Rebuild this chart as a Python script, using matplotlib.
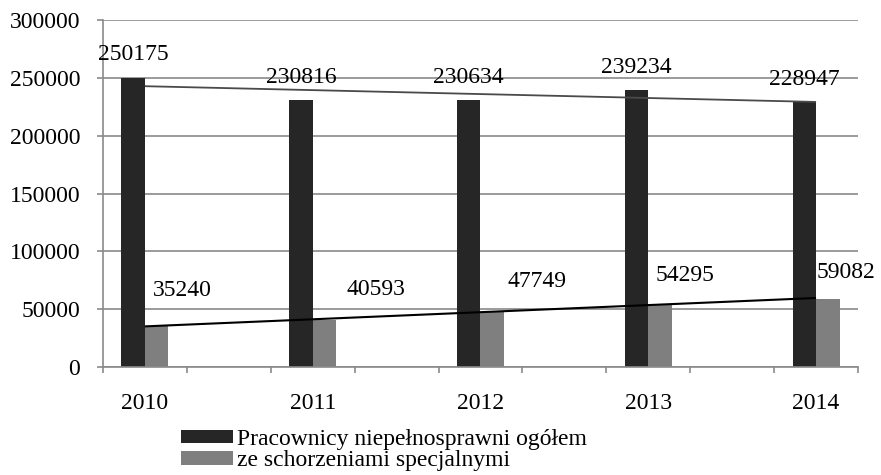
import numpy as np
import matplotlib
matplotlib.use("Agg")
import matplotlib.pyplot as plt

years = ["2010", "2011", "2012", "2013", "2014"]
ogolem = [250175, 230816, 230634, 239234, 228947]
specjalne = [35240, 40593, 47749, 54295, 59082]
series_names = ["Pracownicy niepełnosprawni ogółem", "ze schorzeniami specjalnymi"]
y_ticks = [0, 50000, 100000, 150000, 200000, 250000, 300000]

# label placement tweaks (pixels)
gray_dx = [26, 51, 45, 25, 18]
gray_dy = [36, 31, 30, 29, 26]

plt.rcParams['font.family'] = ['Liberation Serif', 'DejaVu Serif']

fig = plt.figure(figsize=(8.81, 4.75), dpi=100)
ax = fig.add_axes([103/881, 1-367/475, (858-103)/881, (367-20)/475])

dark = "#262626"
gray = "#7f7f7f"
gridc = "#8a8a8a"

pos = np.arange(len(years)) * 2
w = 0.28
ax.bar(pos, ogolem, width=-w, align='edge', color=dark, zorder=2,
       label=series_names[0])
ax.bar(pos, specjalne, width=w, align='edge', color=gray, zorder=2,
       label=series_names[1])

# linear trend lines
xi = np.arange(len(years))
for vals, col, lw in [(ogolem, "#4a4a4a", 1.3), (specjalne, "#000000", 1.5)]:
    k, b = np.polyfit(xi, vals, 1)
    ax.plot([pos[0], pos[-1]], [b + k*xi[0], b + k*xi[-1]], color=col, lw=lw,
            zorder=3, solid_capstyle='butt')

fs = 17
for p, v in zip(pos, ogolem):
    ax.annotate(str(v), (p - w/2, v), xytext=(0, 23), textcoords='offset pixels',
                ha='center', va='center', fontsize=fs, zorder=4)
for p, v, dx, dy in zip(pos, specjalne, gray_dx, gray_dy):
    ax.annotate(str(v), (p + w/2, v), xytext=(dx, dy), textcoords='offset pixels',
                ha='center', va='center', fontsize=fs, zorder=4)

ax.set_xlim(-0.5, 2*len(years) - 1.5)
ax.set_ylim(0, 300000)
ax.set_yticks(y_ticks)
ax.set_yticklabels([str(t) for t in y_ticks])
ax.yaxis.grid(True, color=gridc, lw=1.2, zorder=0)
ax.set_axisbelow(True)

ax.set_xticks(np.arange(-0.5, 2*len(years) - 1.0, 1.0))
ax.set_xticklabels([])
ax.set_xticks(pos, minor=True)
ax.set_xticklabels(years, minor=True)
ax.tick_params(axis='x', which='major', length=4.5, width=1.2, color=gridc, direction='out')
ax.tick_params(axis='x', which='minor', length=0, pad=19, labelsize=fs)
ax.tick_params(axis='y', length=4.5, width=1.2, color=gridc, direction='out', pad=12, labelsize=fs)

for s in ['top', 'right']:
    ax.spines[s].set_visible(False)
for s in ['left', 'bottom']:
    ax.spines[s].set_color(gridc)
    ax.spines[s].set_linewidth(1.2)

fig.legend(loc='upper left', bbox_to_anchor=(181/881, 1-429/475), frameon=False,
           fontsize=17, handlelength=2.2, handleheight=0.5, handletextpad=0.17,
           labelspacing=0.02, borderpad=0, borderaxespad=0)

fig.savefig("out.png", dpi=100)
